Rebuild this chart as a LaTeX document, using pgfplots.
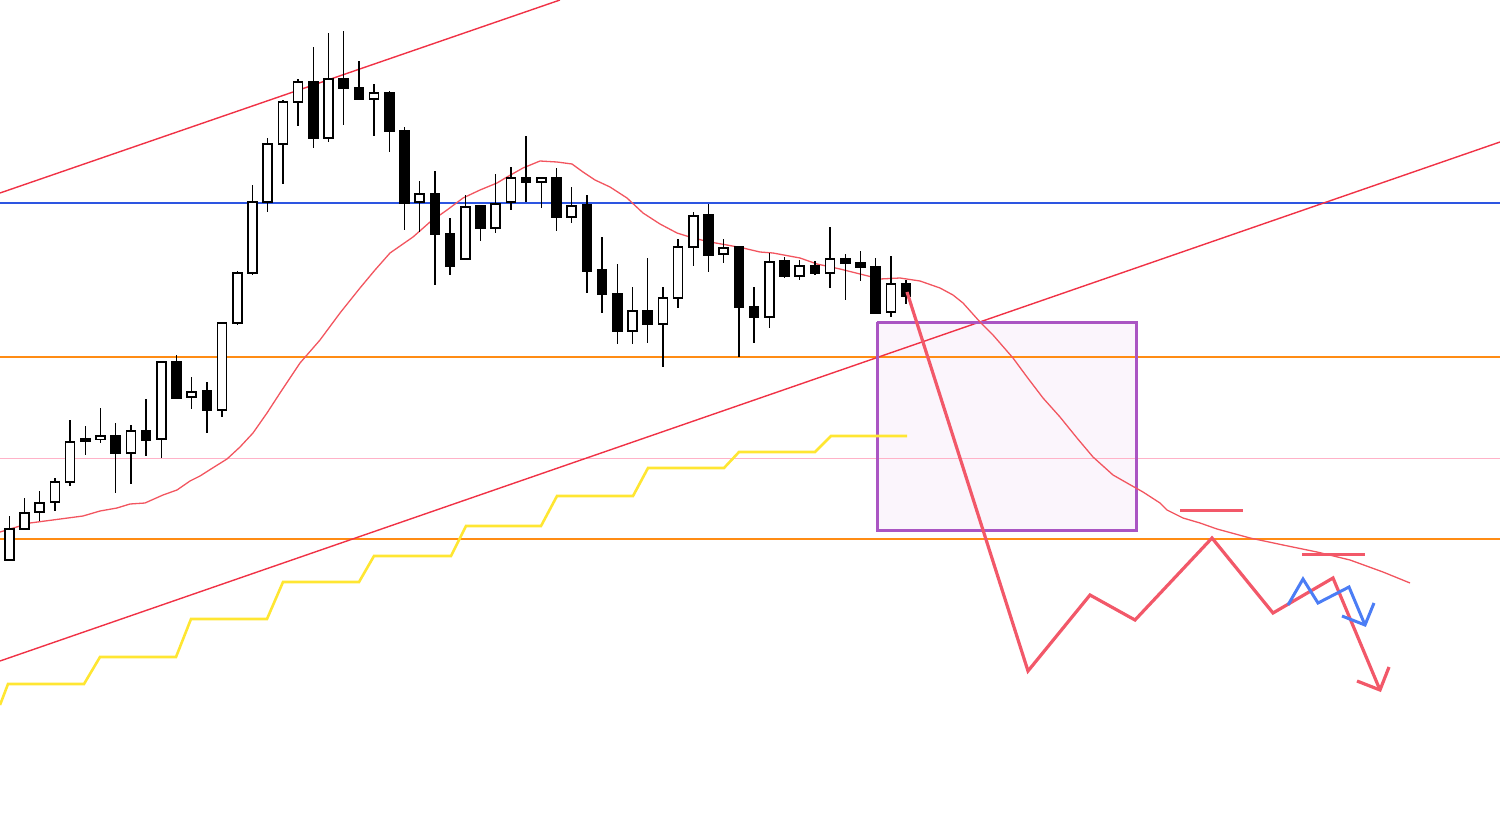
\documentclass[border=0pt]{standalone}
\usepackage{pgfplots}
\usepackage{pgfplotstable}
\pgfplotsset{compat=1.18}

\definecolor{hblue}{RGB}{45,85,225}
\definecolor{horange}{RGB}{255,140,20}
\definecolor{hpink}{RGB}{255,178,200}
\definecolor{trendred}{RGB}{240,50,70}
\definecolor{mared}{RGB}{242,85,95}
\definecolor{stepyellow}{RGB}{255,230,50}
\definecolor{boxpurple}{RGB}{170,85,195}
\definecolor{boxfill}{RGB}{251,245,252}
\definecolor{projred}{RGB}{242,88,105}
\definecolor{projblue}{RGB}{75,125,245}

% candles in picture units (y grows downward): index, open, high, low, close
\pgfplotstableread{
i o h l c
0 560 516 560 529
1 529 498 529 513
2 512 491 521 503
3 502 478 511 482
4 482 420 486 442
5 439 426 455 441
6 439 408 443 436
7 436 423 493 453
8 453 425 484 431
9 431 399 456 440
10 439 361 458 362
11 362 355 398 398
12 397 377 409 392
13 391 382 433 410
14 410 322 417 323
15 323 271 325 273
16 273 185 275 202
17 202 138 212 144
18 144 100 184 102
19 102 79 126 82
20 82 47 148 138
21 138 33 142 79
22 79 31 125 88
23 88 61 100 99
24 99 84 136 93
25 93 91 152 131
26 131 127 230 203
27 202 181 232 194
28 194 171 285 234
29 234 218 275 266
30 259 195 259 207
31 206 206 241 228
32 228 174 233 204
33 202 167 210 178
34 178 136 202 182
35 182 178 208 178
36 178 168 231 217
37 217 187 223 206
38 205 195 293 271
39 270 237 313 294
40 294 264 344 331
41 331 287 344 311
42 311 258 343 324
43 324 287 367 298
44 298 239 308 247
45 247 212 266 216
46 215 204 272 255
47 254 239 263 248
48 247 247 357 307
49 307 287 343 317
50 317 253 328 262
51 261 257 278 276
52 276 260 280 266
53 266 261 275 273
54 273 227 288 259
55 259 254 300 263
56 263 251 281 267
57 267 258 313 313
58 312 256 317 284
59 284 280 304 296
}\candles

\pgfplotstableread{
x y
0 532
30 523
83 516
100 511
117 508
130 504
145 503
163 495
177 490
190 481
200 476
211 469
227 459
240 447
253 433
267 413
280 393
300 363
320 340
340 313
360 288
375 270
390 253
413 237
430 222
447 210
463 198
480 190
497 183
507 177
523 168
540 161
557 162
572 164
583 172
595 180
610 187
627 198
643 213
660 224
677 233
693 238
710 242
727 245
743 248
760 252
773 253
800 258
817 264
840 269
860 274
880 279
900 278
920 281
940 288
953 295
963 303
980 322
993 335
1013 358
1027 377
1043 398
1060 417
1077 438
1093 457
1113 475
1127 483
1143 492
1160 503
1167 510
1183 518
1200 523
1217 529
1250 538
1283 545
1317 552
1350 560
1383 572
1410 583
}\ma

\pgfplotstableread{
x y
0 705
8 684
84 684
100 657
176 657
191 619
267 619
283 582
359 582
374 556
451 556
466 526
541 526
557 496
633 496
648 468
724 468
739 452
815 452
831 436
907 436
}\steps

\begin{document}
\begin{tikzpicture}
\begin{axis}[
    scale only axis,
    width=1500pt,
    height=819pt,
    xmin=0, xmax=1500,
    ymin=0, ymax=819,
    y dir=reverse,
    hide axis,
    clip=true,
]
% zone fill, under everything
\addplot[draw=none, fill=boxfill] coordinates {
    (877,322) (1136,322) (1136,530) (877,530) (877,322)};

% horizontal levels
\addplot[hblue, line width=1.3pt] coordinates {(0,203) (1500,203)};
\addplot[horange, line width=1.5pt] coordinates {(0,357) (1500,357)};
\addplot[hpink, line width=1.1pt] coordinates {(0,458.5) (1500,458.5)};
\addplot[horange, line width=1.5pt] coordinates {(0,539) (1500,539)};

% channel lines
\addplot[trendred, line width=1.4pt] coordinates {(0,193) (560,0)};
\addplot[trendred, line width=1.4pt] coordinates {(0,661) (1500,142)};

% zone border
\addplot[boxpurple, line width=3pt] coordinates {
    (877,322) (1136,322) (1136,530) (877,530) (877,322)};

% moving average and step line
\addplot[mared, line width=1.3pt] table[x=x, y=y] {\ma};
\addplot[stepyellow, line width=2.6pt] table[x=x, y=y] {\steps};

% candles: wicks, body outline, white fill for up candles
\addplot[draw=none, mark=none,
    error bars/.cd, y dir=both, y explicit, error mark=none,
    error bar style={draw=black, line width=1.4pt}]
    table[x expr=9.3+15.2*\thisrow{i}, y expr=(\thisrow{h}+\thisrow{l})/2,
          y error expr=(\thisrow{l}-\thisrow{h})/2] {\candles};
\addplot[draw=none, mark=none,
    error bars/.cd, y dir=both, y explicit, error mark=none,
    error bar style={draw=black, line width=10.6pt}]
    table[x expr=9.3+15.2*\thisrow{i}, y expr=(\thisrow{o}+\thisrow{c})/2,
          y error expr=abs(\thisrow{o}-\thisrow{c})/2+0.75] {\candles};
\addplot[draw=none, mark=none,
    restrict expr to domain={\thisrow{o}-\thisrow{c}}{0.5:1000},
    error bars/.cd, y dir=both, y explicit, error mark=none,
    error bar style={draw=white, line width=7.4pt}]
    table[x expr=9.3+15.2*\thisrow{i}, y expr=(\thisrow{o}+\thisrow{c})/2,
          y error expr=(\thisrow{o}-\thisrow{c})/2-0.75] {\candles};

% projected paths
\addplot[projred, line width=3.2pt, line join=miter] coordinates {
    (907,292) (1028,671) (1090,595) (1135,620) (1212,538)
    (1273,613) (1333,578) (1380,690)};
\addplot[projred, line width=3.2pt] coordinates {(1357,681) (1380,690) (1389,667)};
\addplot[projred, line width=3pt] coordinates {(1180,510) (1243,510)};
\addplot[projred, line width=3pt] coordinates {(1302,554) (1365,554)};
\addplot[projblue, line width=3pt] coordinates {
    (1288,605) (1303,579) (1318,603) (1349,587) (1365,625)};
\addplot[projblue, line width=3pt] coordinates {(1342,616) (1365,625) (1374,603)};
\end{axis}
\path (current axis.south west) rectangle (current axis.north east);
\end{tikzpicture}
\end{document}
